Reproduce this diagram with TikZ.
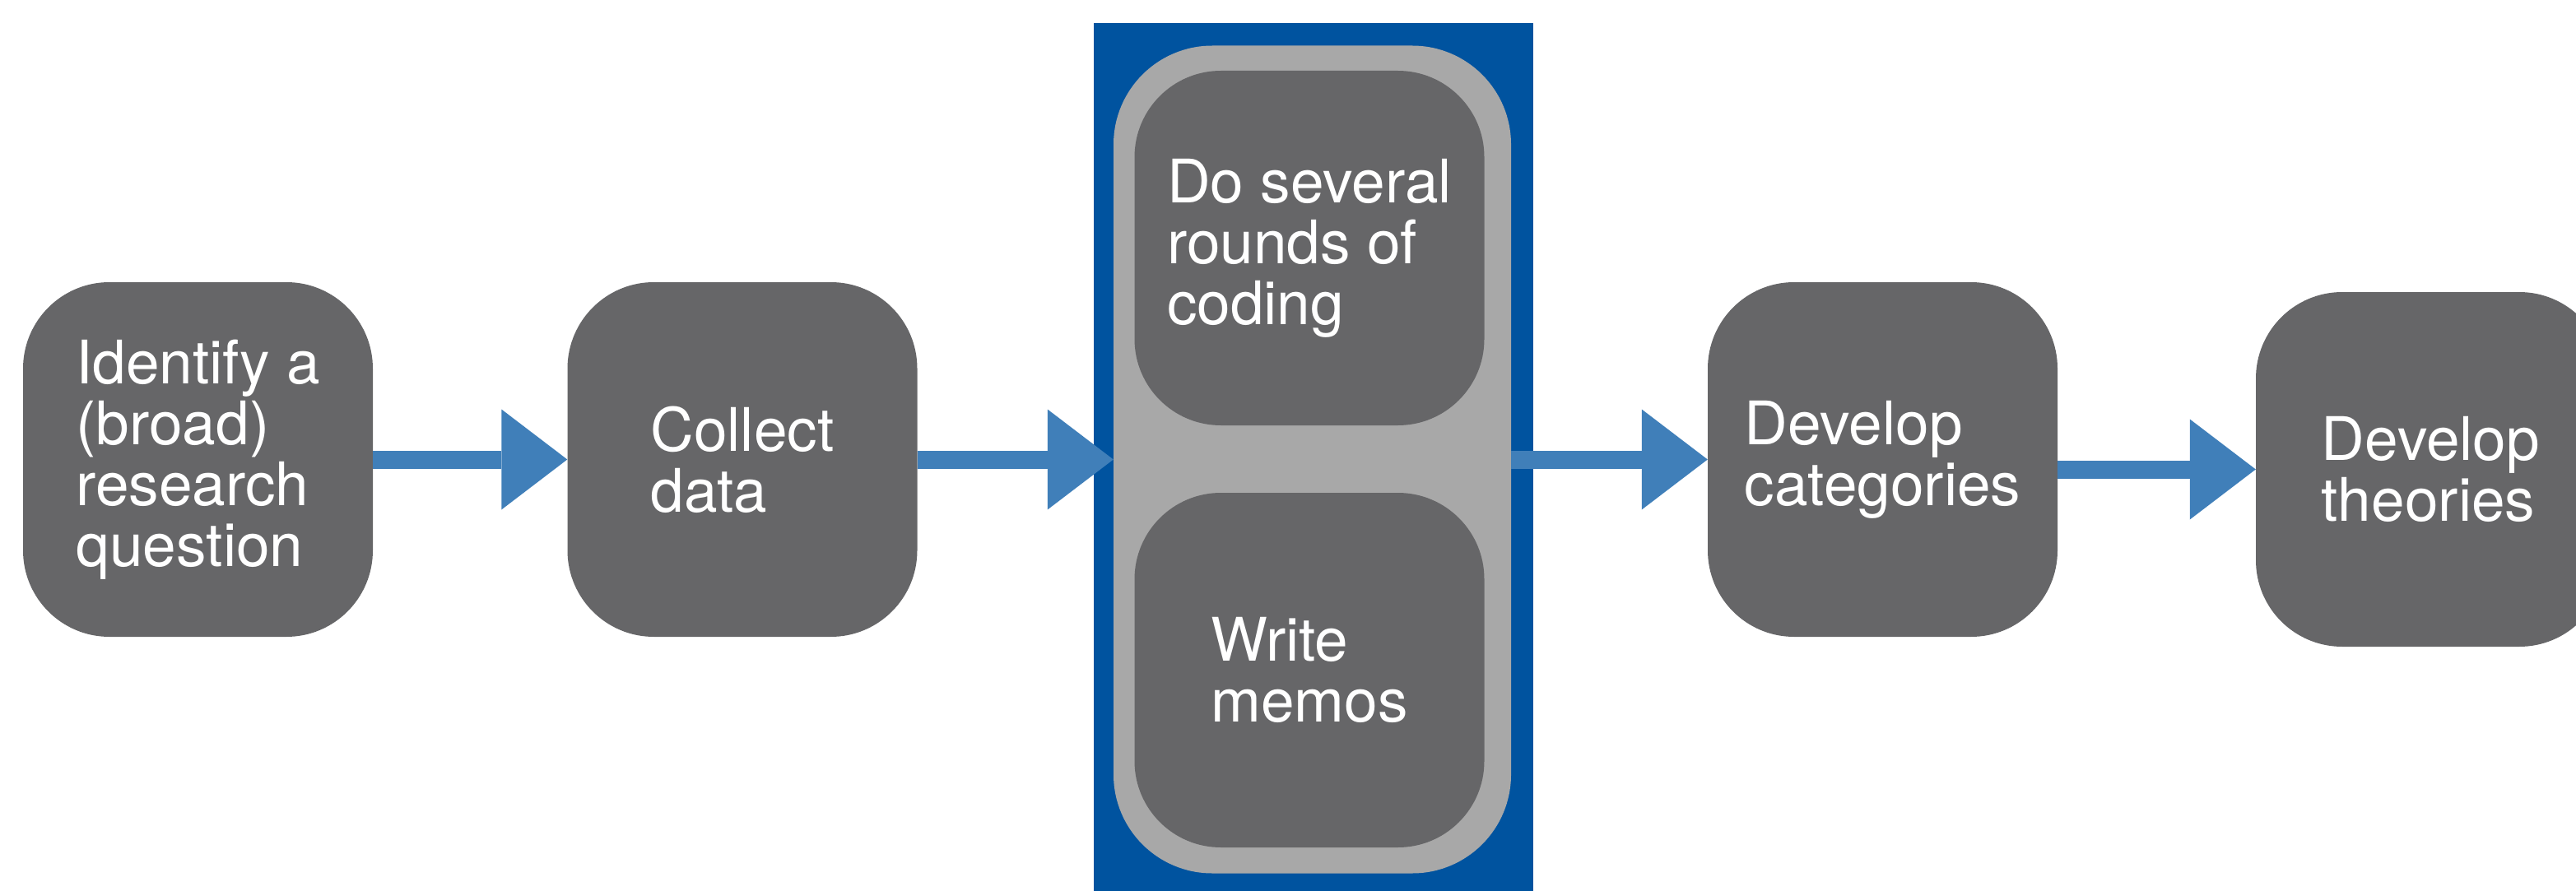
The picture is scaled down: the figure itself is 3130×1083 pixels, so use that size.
\documentclass[tikz,border=0pt]{standalone}
\usepackage{fontspec}
\setmainfont{TeX Gyre Heros}
\usetikzlibrary{arrows.meta}
\definecolor{boxgray}{RGB}{102,102,104}
\definecolor{groupgray}{RGB}{168,168,168}
\definecolor{panelblue}{RGB}{0,83,159}
\definecolor{flowblue}{RGB}{64,127,185}
\begin{document}
\begin{tikzpicture}[x=1pt,y=-1pt,
  stepbox/.style={fill=boxgray, rounded corners=105pt, minimum width=425pt,
    minimum height=431pt, inner sep=0pt, text=white, align=left,
    font=\fontsize{73}{74}\selectfont},
  groupbox/.style={fill=groupgray, rounded corners=120pt, minimum width=483pt,
    minimum height=1006pt, inner sep=0pt},
  flow/.style={draw=flowblue, line width=22pt,
    -{Triangle[length=80pt,width=122pt,line width=0pt]}}]
  \clip (0,0) rectangle (3130,1083);
  \fill[white] (0,0) rectangle (3130,1083);

  % outer steps
  \node[stepbox] (ask) at (240.5,558.5) {Identify a\\(broad)\\research\\question};
  \node[stepbox] (collect) at (902,558.5) {Collect\\data};

  % analysis panel
  \fill[panelblue] (1329,28) rectangle (1863,1100);
  \node[groupbox] (analysis) at (1594.5,558.5) {};
  \node[stepbox] (coding) at (1591,301.5) {Do several\\rounds of\\coding};
  \node[stepbox] (memos) at (1591,814.5) {Write\\memos};

  \node[stepbox] (categories) at (2287.5,558.5) {Develop\\categories};
  \node[stepbox] (theories) at (2953.5,570.5) {Develop\\theories};

  % connectors
  \draw[flow] (ask.east) -- (collect.west);
  \draw[flow] (collect.east) -- (analysis.west);
  \draw[flow] (analysis.east) -- (categories.west);
  \draw[flow] (categories.east |- theories.west) -- (theories.west);
\end{tikzpicture}
\end{document}
